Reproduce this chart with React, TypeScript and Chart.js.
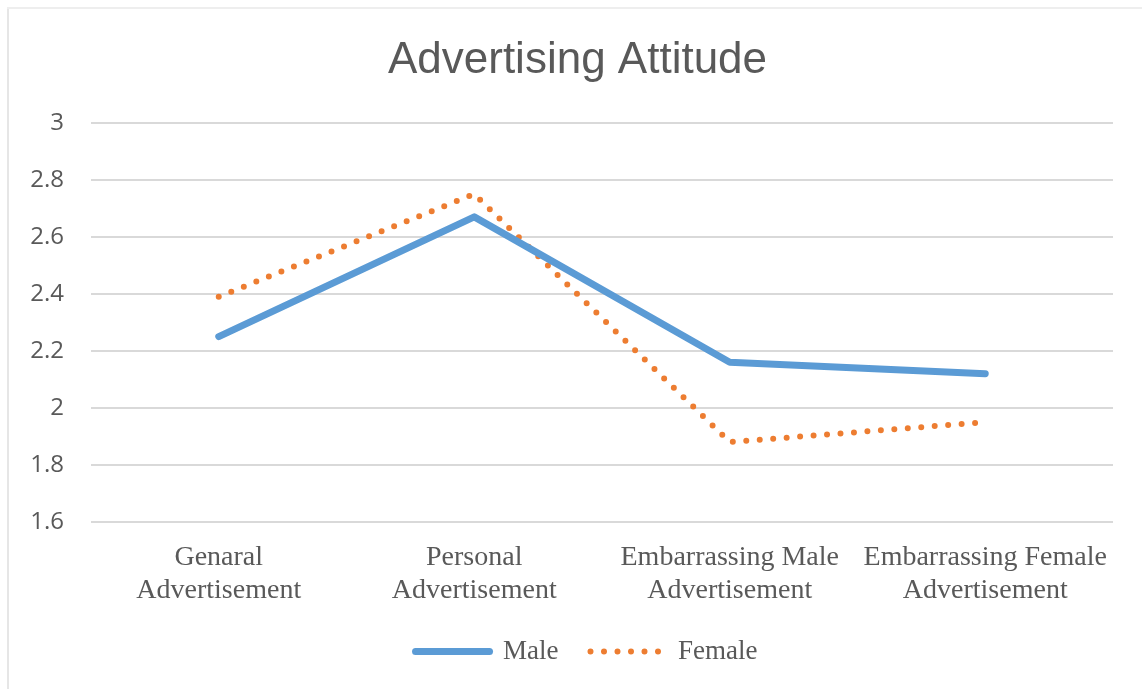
import React, { useEffect, useRef } from "react";
import { Chart, registerables } from "chart.js";

Chart.register(...registerables);

const titleText = "Advertising Attitude";
const categories: string[][] = [
  ["Genaral", "Advertisement"],
  ["Personal", "Advertisement"],
  ["Embarrassing Male", "Advertisement"],
  ["Embarrassing Female", "Advertisement"],
];
const maleValues = [2.25, 2.67, 2.16, 2.12];
const femaleValues = [2.39, 2.75, 1.88, 1.95];
const yMin = 1.6;
const yMax = 3;
const yStep = 0.2;

const TEXT = "#595959";
const SERIF = "'Liberation Serif', 'Times New Roman', serif";

const shiftBlocks = {
  id: "shiftBlocks",
  afterLayout(chart: any) {
    const t = chart.titleBlock;
    if (t) {
      t.left += 21;
      t.right += 21;
    }
    const l = chart.legend;
    if (l) {
      l.left += 30;
      l.right += 30;
    }
  },
};

export default function App() {
  const ref = useRef<HTMLCanvasElement | null>(null);

  useEffect(() => {
    if (!ref.current) return;
    const chart = new Chart(ref.current, {
      type: "line",
      data: {
        labels: categories,
        datasets: [
          {
            label: "Male",
            data: maleValues,
            borderColor: "#5B9BD5",
            backgroundColor: "#5B9BD5",
            borderWidth: 7,
            borderCapStyle: "round",
            borderJoinStyle: "round",
            pointRadius: 0,
            pointHoverRadius: 0,
            tension: 0,
          },
          {
            label: "Female",
            data: femaleValues,
            borderColor: "#ED7D31",
            backgroundColor: "#ED7D31",
            borderWidth: 6,
            borderDash: [0, 13.5],
            borderCapStyle: "round",
            borderJoinStyle: "round",
            pointRadius: 0,
            pointHoverRadius: 0,
            tension: 0,
          },
        ],
      },
      options: {
        animation: false,
        responsive: false,
        layout: { padding: { left: 0, right: 29, top: 0, bottom: 14 } },
        plugins: {
          tooltip: { enabled: false },
          title: {
            display: true,
            text: titleText,
            color: TEXT,
            font: { family: "'Liberation Sans', Arial, sans-serif", size: 44, weight: "normal" },
            padding: { top: 34, bottom: 36 },
          },
          legend: {
            display: true,
            position: "bottom",
            labels: {
              usePointStyle: true,
              pointStyle: "line",
              pointStyleWidth: 74,
              color: TEXT,
              padding: 32,
              font: { family: SERIF, size: 27 },
              generateLabels: (c: any) => {
                const items = Chart.defaults.plugins.legend.labels.generateLabels(c);
                items.forEach((it: any) => {
                  const ds: any = c.data.datasets[it.datasetIndex];
                  it.lineDash = ds.borderDash || [];
                  it.lineCap = ds.borderCapStyle;
                  it.lineWidth = ds.borderWidth;
                  it.strokeStyle = ds.borderColor;
                  it.fillStyle = ds.borderColor;
                  it.pointStyle = "line";
                });
                return items;
              },
            },
          },
        },
        scales: {
          x: {
            type: "category",
            offset: true,
            afterFit: (scale: any) => {
              scale.height = scale.height - 20;
            },
            grid: { display: false, drawTicks: false },
            border: { display: false },
            ticks: {
              color: TEXT,
              padding: 19,
              maxRotation: 0,
              autoSkip: false,
              font: { family: SERIF, size: 28, lineHeight: 1.18 },
            },
          },
          y: {
            min: yMin,
            max: yMax,
            afterFit: (scale: any) => {
              scale.width = 91;
            },
            grid: { color: "#d9d9d9", lineWidth: 2, drawTicks: false },
            border: { display: false },
            ticks: {
              stepSize: yStep,
              color: TEXT,
              padding: 27,
              font: { family: "'Open Sans', sans-serif", size: 24 },
              callback: (v: any) => String(Number(Number(v).toFixed(1))),
            },
          },
        },
      },
      plugins: [shiftBlocks],
    });
    return () => chart.destroy();
  }, []);

  return (
    <div style={{ position: "fixed", left: 0, top: 0, width: 1142, height: 689, background: "#fff" }}>
      <div style={{ position: "absolute", left: 7, top: 7, width: 2, height: 682, background: "#e6e6e6" }} />
      <div style={{ position: "absolute", left: 7, top: 7, width: 1135, height: 2, background: "#eeeeee" }} />
      <canvas ref={ref} width={1142} height={689} style={{ position: "absolute", left: 0, top: 0 }} />
    </div>
  );
}
